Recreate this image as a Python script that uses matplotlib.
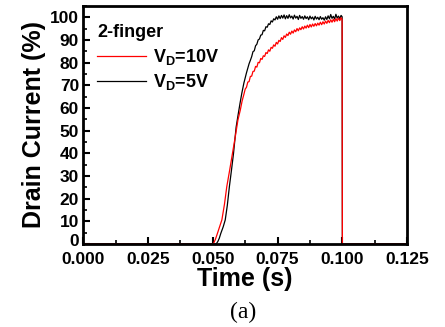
import numpy as np
import matplotlib
matplotlib.use('Agg')
import matplotlib.pyplot as plt
from matplotlib.ticker import MultipleLocator
from matplotlib.transforms import ScaledTranslation

# ---- dados ----
# V_D = 5V (preto)
t_5v = [0.0, 0.0510, 0.0515, 0.0520, 0.0525, 0.0531, 0.0540, 0.0548, 0.0556, 0.0564,
        0.0572, 0.0580, 0.0590, 0.0597, 0.0605, 0.0612, 0.0620, 0.0630, 0.0640, 0.0645,
        0.0650, 0.0655, 0.0660, 0.0665, 0.0670, 0.0675, 0.0680, 0.0685, 0.0690, 0.0695,
        0.0700, 0.0705, 0.0710, 0.0715, 0.0720, 0.0725, 0.0730, 0.0735, 0.0740, 0.0745,
        0.0750, 0.0755, 0.0760, 0.0765, 0.0770, 0.0775, 0.0780, 0.0785, 0.0790, 0.0795,
        0.0800, 0.0805, 0.0810, 0.0815, 0.0820, 0.0825, 0.0830, 0.0835, 0.0840, 0.0845,
        0.0850, 0.0855, 0.0860, 0.0865, 0.0870, 0.0875, 0.0880, 0.0885, 0.0890, 0.0895,
        0.0900, 0.0905, 0.0910, 0.0915, 0.0920, 0.0925, 0.0930, 0.0935, 0.0940, 0.0945,
        0.0950, 0.0955, 0.0960, 0.0965, 0.0970, 0.0975, 0.0980, 0.0985, 0.0990, 0.0995,
        0.0999, 0.1000, 0.1250]
i_5v = [0, 0, 0.3, 1.2, 2.5, 4.7, 7.5, 10.6, 17.0, 25.3,
        32.5, 40.0, 51.5, 56.5, 62.0, 66.5, 71.0, 75.5, 79.5, 81.0,
        82.6, 84.8, 85.2, 87.4, 88.1, 90.0, 90.4, 92.1, 92.3, 94.2,
        94.0, 95.8, 95.6, 97.1, 96.8, 98.4, 97.9, 99.3, 98.8, 100.2,
        99.1, 100.6, 99.4, 100.8, 99.6, 101.0, 99.3, 100.7, 99.5, 101.1,
        99.7, 100.5, 99.2, 100.9, 99.6, 100.4, 99.0, 100.8, 99.5, 100.3,
        99.1, 100.6, 99.4, 100.2, 98.9, 100.5, 99.3, 100.1, 98.8, 100.4,
        99.2, 100.0, 98.9, 100.3, 99.1, 99.8, 98.7, 100.2, 99.0, 100.6,
        99.3, 101.2, 99.5, 100.4, 99.2, 101.3, 99.6, 100.5, 99.4, 100.8,
        100.2, 0, 0]

# V_D = 10V (vermelho)
t_10v = [0.0, 0.0500, 0.0503, 0.0510, 0.0518, 0.0526, 0.0535, 0.0545, 0.0554, 0.0565,
         0.0576, 0.0587, 0.0597, 0.0606, 0.0613,
         0.0620, 0.0625, 0.0630, 0.0635, 0.0640, 0.0645, 0.0650, 0.0655, 0.0660, 0.0665,
         0.0670, 0.0675, 0.0680, 0.0685, 0.0690, 0.0695, 0.0700, 0.0705, 0.0710, 0.0715,
         0.0720, 0.0725, 0.0730, 0.0735, 0.0740, 0.0745, 0.0750, 0.0755, 0.0760, 0.0765,
         0.0770, 0.0775, 0.0780, 0.0785, 0.0790, 0.0795, 0.0800, 0.0805, 0.0810, 0.0815,
         0.0820, 0.0825, 0.0830, 0.0835, 0.0840, 0.0845, 0.0850, 0.0855, 0.0860, 0.0865,
         0.0870, 0.0875, 0.0880, 0.0885, 0.0890, 0.0895, 0.0900, 0.0905, 0.0910, 0.0915,
         0.0920, 0.0925, 0.0930, 0.0935, 0.0940, 0.0945, 0.0950, 0.0955, 0.0960, 0.0965,
         0.0970, 0.0975, 0.0980, 0.0985, 0.0990, 0.0995, 0.0999, 0.1000, 0.1250]
i_10v = [0, 0, 0.3, 2.0, 4.7, 7.5, 10.6, 17.5, 25.3, 32.5,
         40.0, 47.5, 54.7, 59.0, 63.0,
         66.0, 68.3, 69.1, 71.4, 71.6, 73.9, 74.0, 76.1, 76.2, 78.3,
         78.0, 80.1, 79.9, 81.8, 81.4, 83.0, 82.7, 84.4, 84.0, 85.6,
         85.0, 86.7, 86.3, 87.8, 87.2, 88.9, 88.2, 89.8, 89.3, 91.0,
         90.2, 91.8, 91.1, 92.6, 91.9, 93.4, 92.5, 93.9, 93.0, 94.4,
         93.6, 95.0, 94.0, 95.3, 94.5, 95.8, 94.8, 96.1, 95.2, 96.5,
         95.4, 96.8, 95.7, 97.0, 96.0, 97.2, 96.2, 97.4, 96.5, 97.8,
         96.7, 98.0, 97.0, 98.3, 97.3, 98.6, 97.6, 98.9, 97.8, 99.1,
         98.0, 99.4, 98.3, 99.6, 98.5, 99.8, 99.0, 0, 0]

y_ticks = [0, 10, 20, 30, 40, 50, 60, 70, 80, 90, 100]
x_ticks = [0, 0.025, 0.05, 0.075, 0.1, 0.125]
x_tick_labels = ['0.000', '0.025', '0.050', '0.075', '0.100', '0.125']

plt.rcParams['font.family'] = ['Liberation Sans', 'DejaVu Sans']
plt.rcParams['font.weight'] = 'bold'
plt.rcParams['mathtext.default'] = 'regular'

fig = plt.figure(figsize=(4.45, 3.27), dpi=100)
ax = fig.add_axes([0.187, 0.254, 0.728, 0.728])

l5, = ax.plot(t_5v, i_5v, color='black', lw=0.9, label=r'V$_\mathregular{D}$=5V')
l10, = ax.plot(t_10v, i_10v, color='red', lw=0.9, label=r'V$_\mathregular{D}$=10V')

ax.set_xlim(0, 0.125)
ax.set_ylim(0, 105)
ax.set_xticks(x_ticks)
ax.set_xticklabels(x_tick_labels)
ax.set_yticks(y_ticks)
ax.xaxis.set_minor_locator(MultipleLocator(0.0125))
ax.yaxis.set_minor_locator(MultipleLocator(5))
ax.tick_params(which='major', direction='in', length=5, width=1.5, labelsize=12.5)
ax.tick_params(axis='x', pad=5.5)
ax.tick_params(axis='y', pad=3)
ax.tick_params(which='minor', direction='in', length=3, width=1.2)
for s in ax.spines.values():
    s.set_linewidth(2)

ax.set_xlabel('Time (s)', fontsize=18, fontweight='bold', labelpad=0.5)
ax.set_ylabel('Drain Current (%)', fontsize=18, fontweight='bold', labelpad=3)

leg = ax.legend(handles=[l10, l5], loc='upper left', bbox_to_anchor=(0.005, 0.975),
                frameon=False, title='2-finger',
                fontsize=13, title_fontproperties={'size': 13, 'weight': 'bold'},
                alignment='left', handlelength=2.7, handletextpad=0.35, labelspacing=0.3,
                borderaxespad=0.3)

fig.text(0.547, 0.046, '(a)', ha='center', va='center', fontsize=17,
         family='Liberation Serif', fontweight='normal')

# sobe um pouco o rótulo "0" do eixo y para não encostar em "0.000"
fig.canvas.draw()
lbl0 = ax.yaxis.get_major_ticks()[0].label1
lbl0.set_transform(lbl0.get_transform() + ScaledTranslation(0, 3 / 72, fig.dpi_scale_trans))

fig.savefig('out.png', dpi=100)
